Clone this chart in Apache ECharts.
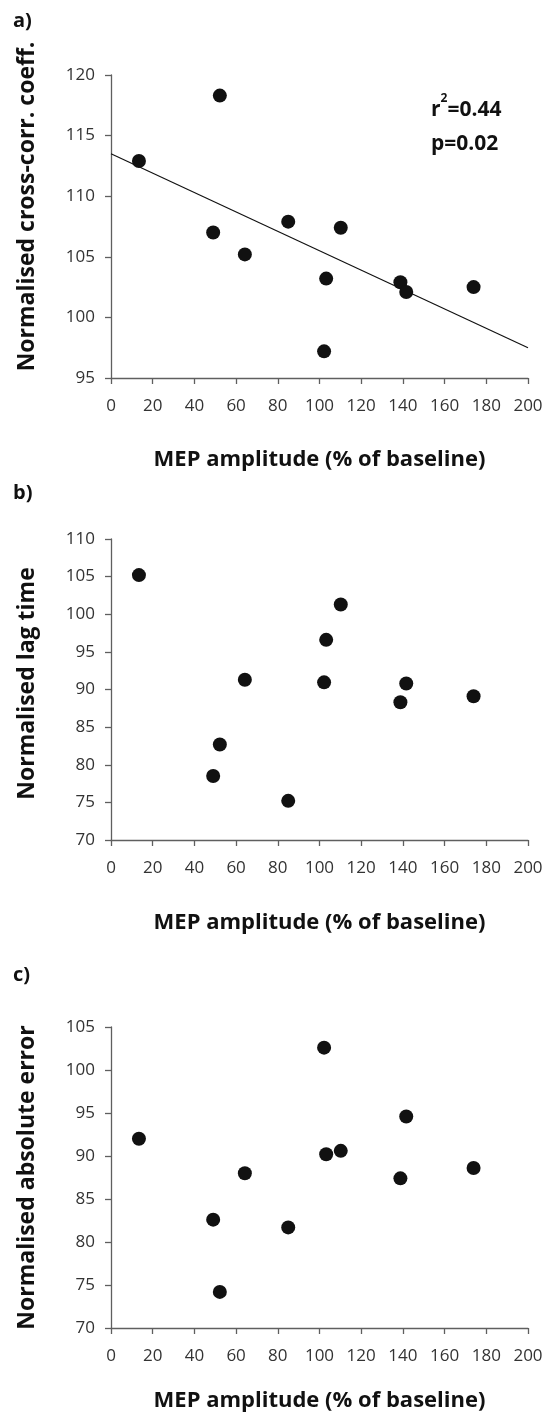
<!DOCTYPE html>
<html>
<head>
<meta charset="utf-8">
<script src="https://cdn.jsdelivr.net/npm/echarts@6/dist/echarts.min.js"></script>
<style>html,body{margin:0;padding:0;background:#fff}#c{width:547px;height:1425px}</style>
</head>
<body>
<div id="c"></div>
<script>
// MEP amplitude (% of baseline), one value per subject
var mepAmplitude = [13.4, 49.0, 52.2, 64.2, 85.0, 102.2, 103.2, 110.2, 138.8, 141.6, 173.9];
// a) Normalised cross-corr. coeff.
var crossCorr = [112.9, 107.0, 118.3, 105.2, 107.9, 97.2, 103.2, 107.4, 102.9, 102.1, 102.5];
// b) Normalised lag time
var lagTime = [105.2, 78.5, 82.7, 91.3, 75.2, 90.95, 96.6, 101.3, 88.3, 90.8, 89.1];
// c) Normalised absolute error
var absError = [92.0, 82.6, 74.2, 88.0, 81.7, 102.6, 90.2, 90.6, 87.4, 94.6, 88.6];
// regression line for panel a (x, y endpoints)
var trendX = [0, 200];
var trendY = [113.5, 97.5];
var panelLabels = ['a)', 'b)', 'c)'];
var xName = 'MEP amplitude (% of baseline)';
var yNames = ['Normalised cross-corr. coeff.', 'Normalised lag time', 'Normalised absolute error'];
var yRanges = [[95, 120], [70, 110], [70, 105]];
var statsText = ['r{s|2}=0.44', 'p=0.02'];

function pairs(xs, ys) { return xs.map(function (x, i) { return [x, ys[i]]; }); }

var FONT = '"Open Sans", sans-serif';
var axisCol = '#5f5f5f';
var xLabel = { color: '#333', fontSize: 17, fontFamily: FONT, margin: 20 };
var yLabel = { color: '#333', fontSize: 17, fontFamily: FONT, margin: 16 };
var grids = [
  { left: 111, right: 19, top: 75, height: 303 },
  { left: 111, right: 19, top: 539, height: 301 },
  { left: 111, right: 19, top: 1027, height: 301 }
];
var xGaps = [71, 72, 62];
var yPads = [[0, 0, 0, 40], [0, 0, 0, 12], 0];
var xAxes = [], yAxes = [];
for (var i = 0; i < 3; i++) {
  xAxes.push({
    type: 'value', gridIndex: i, min: 0, max: 200, interval: 20,
    name: xName, nameLocation: 'middle', nameGap: xGaps[i],
    nameTextStyle: { fontSize: 22, fontWeight: 'bold', color: '#111', fontFamily: FONT },
    axisLine: { lineStyle: { color: axisCol, width: 1.3 } },
    axisTick: { show: true, length: 6, lineStyle: { color: axisCol, width: 1.3 } },
    axisLabel: xLabel, splitLine: { show: false }
  });
  yAxes.push({
    type: 'value', gridIndex: i, min: yRanges[i][0], max: yRanges[i][1], interval: 5,
    name: yNames[i], nameLocation: 'middle', nameGap: 72, nameRotate: 90,
    nameTextStyle: { fontSize: 23, fontWeight: 'bold', color: '#111', fontFamily: FONT, padding: yPads[i] },
    axisLine: { show: true, lineStyle: { color: axisCol, width: 1.3 } },
    axisTick: { show: true, length: 6, lineStyle: { color: axisCol, width: 1.3 } },
    axisLabel: yLabel, splitLine: { show: false }
  });
}
var dot = { type: 'scatter', symbolSize: 14, itemStyle: { color: '#111', opacity: 1 }, silent: true };
var series = [
  Object.assign({}, dot, { xAxisIndex: 0, yAxisIndex: 0, data: pairs(mepAmplitude, crossCorr) }),
  { type: 'line', xAxisIndex: 0, yAxisIndex: 0, data: pairs(trendX, trendY), symbol: 'none',
    lineStyle: { color: '#111', width: 1.2 }, silent: true, z: 1 },
  Object.assign({}, dot, { xAxisIndex: 1, yAxisIndex: 1, data: pairs(mepAmplitude, lagTime) }),
  Object.assign({}, dot, { xAxisIndex: 2, yAxisIndex: 2, data: pairs(mepAmplitude, absError) })
];
var labelTops = [11, 483, 965];
var graphic = panelLabels.map(function (t, i) {
  return { type: 'text', left: 13, top: labelTops[i],
    style: { text: t, font: 'bold 20px ' + FONT, fill: '#111' } };
});
graphic.push({ type: 'text', left: 431, top: 93,
  style: { text: statsText.join('\n'), font: 'bold 21px ' + FONT, fill: '#111', lineHeight: 34,
    rich: { s: { fontSize: 12, fontWeight: 'bold', fontFamily: FONT, fill: '#111', verticalAlign: 'top', padding: [0, 0, 12, 0] } } } });

var chart = echarts.init(document.getElementById('c'), null, { renderer: 'canvas' });
chart.setOption({
  animation: false,
  backgroundColor: '#fff',
  grid: grids, xAxis: xAxes, yAxis: yAxes, series: series, graphic: graphic
});
</script>
</body>
</html>
